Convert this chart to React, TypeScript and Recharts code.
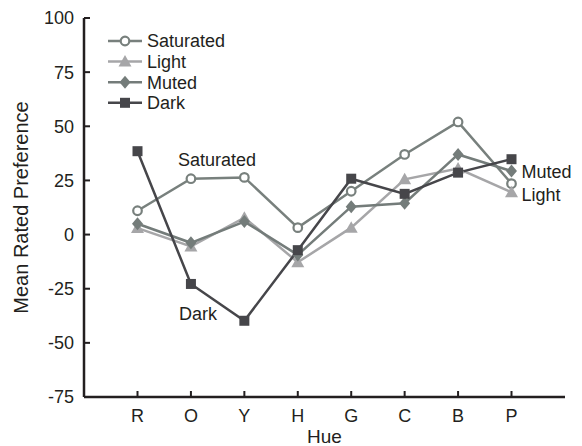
import React from "react";
import { LineChart, Line, XAxis, YAxis, LabelList } from "recharts";

const hues = ["R", "O", "Y", "H", "G", "C", "B", "P"];
const saturated = [11, 25.8, 26.4, 3.2, 20, 37, 52, 23.5];
const light = [3, -5.5, 7.8, -12.8, 3.2, 25.5, 30.5, 19.5];
const muted = [5, -3.8, 6, -9.4, 12.9, 14.5, 37, 29.3];
const dark = [38.5, -22.8, -39.8, -7.2, 25.8, 18.8, 28.6, 34.8];
const yTicks = [-75, -50, -25, 0, 25, 50, 75, 100];

const colors = {
  saturated: "#78807d",
  light: "#a6a6a8",
  muted: "#747c7a",
  dark: "#46464a",
};
const textColor = "#231f20";
const font = "'Liberation Sans', Arial, sans-serif";

const data = hues.map((hue, i) => ({
  hue,
  saturated: saturated[i],
  light: light[i],
  muted: muted[i],
  dark: dark[i],
}));

type Shape = "circle" | "triangle" | "diamond" | "square";

function Marker({ cx, cy, shape, color }: { cx: number; cy: number; shape: Shape; color: string }) {
  if (cx == null || cy == null) return null;
  if (shape === "circle")
    return <circle cx={cx} cy={cy} r={4.3} fill="#fff" stroke={color} strokeWidth={2.2} />;
  if (shape === "triangle")
    return <path d={`M${cx},${cy - 6.5}L${cx + 6.5},${cy + 5}L${cx - 6.5},${cy + 5}Z`} fill={color} />;
  if (shape === "diamond")
    return <path d={`M${cx},${cy - 6.5}L${cx + 5.5},${cy}L${cx},${cy + 6.5}L${cx - 5.5},${cy}Z`} fill={color} />;
  return <rect x={cx - 5} y={cy - 5} width={10} height={10} fill={color} />;
}

const series: { key: string; name: string; shape: Shape; color: string }[] = [
  { key: "saturated", name: "Saturated", shape: "circle", color: colors.saturated },
  { key: "light", name: "Light", shape: "triangle", color: colors.light },
  { key: "muted", name: "Muted", shape: "diamond", color: colors.muted },
  { key: "dark", name: "Dark", shape: "square", color: colors.dark },
];

// legend drawn over the chart, top left inside the plot
function ChartLegend() {
  return (
    <svg width={160} height={90} style={{ position: "absolute", left: 108, top: 31 }}>
      {series.map((s, i) => {
        const y = 10 + i * 20.6;
        return (
          <g key={s.key}>
            <line x1={0} x2={34} y1={y} y2={y} stroke={s.color} strokeWidth={2.5} />
            <Marker cx={17} cy={y} shape={s.shape} color={s.color} />
            <text x={39} y={y} dy="0.36em" fontSize={18} fill={textColor} fontFamily={font}>
              {s.name}
            </text>
          </g>
        );
      })}
    </svg>
  );
}

// annotation beside a single point of a series
function pointLabel(index: number, text: string, dx: number, dy: number) {
  return (props: any) => {
    if (props.index !== index) return null;
    return (
      <text x={props.x + dx} y={props.y + dy} dy="0.36em" fontSize={18} fill={textColor} fontFamily={font}>
        {text}
      </text>
    );
  };
}

export default function App() {
  return (
    <div style={{ position: "relative", width: 582, height: 446, background: "#fff" }}>
      <style>{`body{margin:0}`}</style>
      <LineChart
        width={582}
        height={446}
        data={data}
        margin={{ top: 18, right: 17, left: 0, bottom: 0 }}
        style={{ fontFamily: font }}
      >
        <XAxis
          dataKey="hue"
          height={49}
          padding={{ left: 53.5, right: 53.5 }}
          stroke={textColor}
          strokeWidth={2.5}
          tickSize={-6}
          tickMargin={18}
          tick={{ fontSize: 18, fill: textColor }}
          tickLine={{ stroke: textColor, strokeWidth: 2 }}
          label={{ value: "Hue", position: "insideBottom", offset: 3, fontSize: 19, fill: textColor }}
        />
        <YAxis
          width={84}
          domain={[-75, 100]}
          ticks={yTicks}
          interval={0}
          stroke={textColor}
          strokeWidth={2.5}
          tickSize={-6}
          tickMargin={16}
          tick={{ fontSize: 18, fill: textColor }}
          tickLine={{ stroke: textColor, strokeWidth: 2 }}
          label={{
            value: "Mean Rated Preference",
            angle: -90,
            position: "insideLeft",
            offset: 21,
            style: { textAnchor: "middle", fontSize: 20, fill: textColor },
          }}
        />
        {series.map((s) => (
          <Line
            key={s.key}
            type="linear"
            dataKey={s.key}
            name={s.name}
            stroke={s.color}
            strokeWidth={2.5}
            dot={(p: any) => <Marker key={`${s.key}-${p.index}`} cx={p.cx} cy={p.cy} shape={s.shape} color={s.color} />}
            activeDot={false}
            isAnimationActive={false}
          >
            {s.key === "saturated" && <LabelList content={pointLabel(1, "Saturated", -13, -19)} />}
            {s.key === "dark" && <LabelList content={pointLabel(1, "Dark", -12, 30)} />}
            {s.key === "muted" && <LabelList content={pointLabel(7, "Muted", 10, 0)} />}
            {s.key === "light" && <LabelList content={pointLabel(7, "Light", 10, 2)} />}
          </Line>
        ))}
      </LineChart>
      <ChartLegend />
    </div>
  );
}
